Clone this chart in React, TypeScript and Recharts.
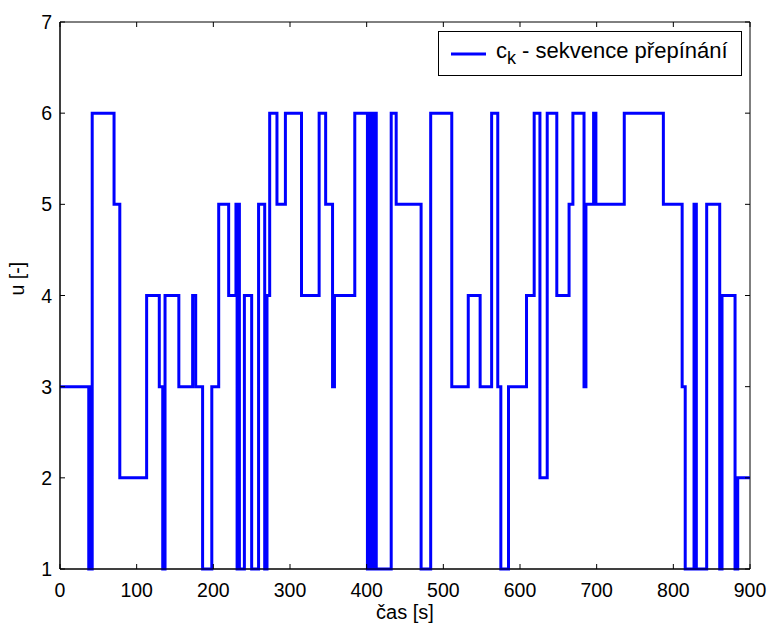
import { LineChart, Line, XAxis, YAxis, ReferenceArea, Legend } from 'recharts'

// switching instants [s] and the level u that holds from each instant on
const switchTimes = [
  0, 37.5, 39, 40.5, 42, 70.5, 78, 113, 129.5, 134, 137, 155, 173, 177, 186, 198, 207, 220,
  229.5, 231, 232.5, 234, 240.5, 250, 259, 267, 270, 273.5, 283, 294, 315, 338, 346.5, 355.5,
  358, 384.5, 401, 403, 405, 407, 409, 411, 412.5, 432, 438.5, 471, 483.5, 511, 532.5, 548,
  563, 571, 575, 585, 608.5, 618.5, 626, 635.5, 648, 664, 669, 683.5, 686, 696, 699, 736,
  787, 811.5, 815.5, 827, 830, 843.5, 860.5, 863.5, 880.5, 884, 900,
]
const levels = [
  3, 1, 3, 1, 6, 5, 2, 4, 3, 1, 4, 3, 4, 3, 1, 3, 5, 4,
  5, 1, 5, 1, 4, 1, 5, 1, 4, 6, 5, 6, 4, 6, 5, 3,
  4, 6, 1, 6, 1, 6, 1, 6, 1, 6, 5, 1, 6, 3, 4, 3,
  6, 3, 1, 3, 4, 6, 2, 6, 4, 5, 6, 3, 5, 6, 5, 6,
  5, 3, 1, 5, 1, 5, 1, 4, 1, 2, 2,
]
const xTicks = [0, 100, 200, 300, 400, 500, 600, 700, 800, 900]
const yTicks = [1, 2, 3, 4, 5, 6, 7]

const data = switchTimes.map((t, i) => ({ t, u: levels[i] }))

const font = '"Liberation Sans", Arial, Helvetica, sans-serif'
const PLOT_W = 690
const PLOT_H = 547

// eslint-disable-next-line @typescript-eslint/no-explicit-any
function XTick({ x, y, payload }: any) {
  return (
    <g>
      <line x1={x} x2={x} y1={y} y2={y - 5} stroke="#000" />
      <line x1={x} x2={x} y1={y - PLOT_H} y2={y - PLOT_H + 5} stroke="#000" />
      <text x={x} y={y + 28} textAnchor="middle" fontFamily={font} fontSize={19.5} fill="#000">
        {payload.value}
      </text>
    </g>
  )
}

// eslint-disable-next-line @typescript-eslint/no-explicit-any
function YTick({ x, y, payload }: any) {
  return (
    <g>
      <line x1={x} x2={x + 5} y1={y} y2={y} stroke="#000" />
      <line x1={x + PLOT_W - 5} x2={x + PLOT_W} y1={y} y2={y} stroke="#000" />
      <text x={x - 8} y={y + 7} textAnchor="end" fontFamily={font} fontSize={19.5} fill="#000">
        {payload.value}
      </text>
    </g>
  )
}

function LegendBox() {
  return (
    <div
      style={{
        width: 304, height: 45, border: '1px solid #000', background: '#fff',
        boxSizing: 'border-box', display: 'flex', alignItems: 'center',
        fontFamily: font, fontSize: 22, color: '#000',
      }}
    >
      <svg width={57} height={20} style={{ flexShrink: 0 }}>
        <line x1={12} x2={47} y1={10} y2={10} stroke="#0000ff" strokeWidth={3} />
      </svg>
      <span style={{ whiteSpace: 'nowrap' }}>
        c<sub style={{ fontSize: 18, verticalAlign: -6 }}>k</sub> - sekvence přepínání
      </span>
    </div>
  )
}

export default function App() {
  return (
    <div style={{ position: 'absolute', left: 0, top: 0, background: '#fff' }}>
      <LineChart width={770} height={623} data={data} margin={{ top: 22, right: 20, left: 0, bottom: 0 }}>
        <XAxis
          dataKey="t"
          type="number"
          domain={[0, 900]}
          ticks={xTicks}
          tick={<XTick />}
          tickSize={0}
          tickMargin={0}
          tickLine={false}
          height={54}
          axisLine={{ stroke: '#000' }}
          label={{ value: 'čas [s]', position: 'insideBottom', offset: 4, fontFamily: font, fontSize: 20, fill: '#000' }}
        />
        <YAxis
          type="number"
          domain={[1, 7]}
          ticks={yTicks}
          tick={<YTick />}
          tickSize={0}
          tickMargin={0}
          tickLine={false}
          width={60}
          axisLine={{ stroke: '#000' }}
          label={{ value: 'u [-]', angle: -90, position: 'insideLeft', offset: 17, fontFamily: font, fontSize: 19.5, fill: '#000' }}
        />
        <ReferenceArea x1={0} x2={900} y1={1} y2={7} stroke="#000" strokeWidth={1} fill="none" fillOpacity={0} />
        <Legend
          layout="vertical"
          align="center"
          verticalAlign="middle"
          content={<LegendBox />}
          wrapperStyle={{ top: 31, left: 438, width: 304 }}
        />
        <Line
          type="stepAfter"
          dataKey="u"
          stroke="#0000ff"
          strokeWidth={3}
          dot={false}
          isAnimationActive={false}
        />
      </LineChart>
    </div>
  )
}
